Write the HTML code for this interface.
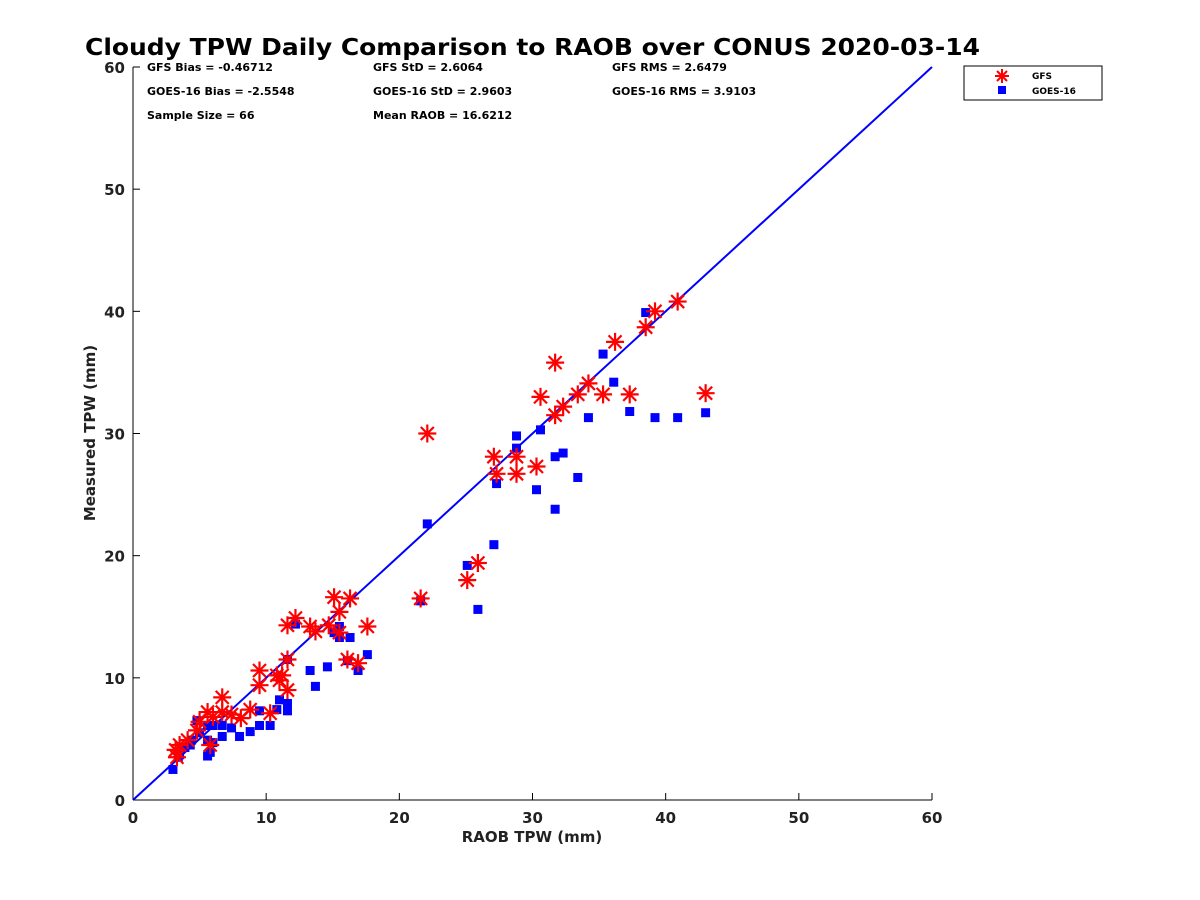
<!DOCTYPE html>
<html><head><meta charset="utf-8"><style>
body{margin:0;background:#fff;}
svg{display:block;font-family:"DejaVu Sans","Liberation Sans",sans-serif;}
</style></head><body>
<svg id="chart" width="1200" height="900">
<rect width="1200" height="900" fill="#fff"/>
<text x="85" y="55" font-size="23" font-weight="bold" textLength="895" lengthAdjust="spacingAndGlyphs">Cloudy TPW Daily Comparison to RAOB over CONUS 2020-03-14</text>
<g font-size="11" font-weight="bold">
<text x="147" y="71">GFS Bias = -0.46712</text>
<text x="373" y="71">GFS StD = 2.6064</text>
<text x="612" y="71">GFS RMS = 2.6479</text>
<text x="147" y="95">GOES-16 Bias = -2.5548</text>
<text x="373" y="95">GOES-16 StD = 2.9603</text>
<text x="612" y="95">GOES-16 RMS = 3.9103</text>
<text x="147" y="119">Sample Size = 66</text>
<text x="373" y="119">Mean RAOB = 16.6212</text>
</g>
<g id="axes"></g>
<g id="marks"></g>
<g>
<rect x="964" y="66" width="138" height="34" fill="#fff" stroke="#000" stroke-width="1"/>
<g stroke="#f00" stroke-width="2">
<line x1="1002" y1="69" x2="1002" y2="83"/><line x1="995" y1="76" x2="1009" y2="76"/><line x1="997" y1="71" x2="1007" y2="81"/><line x1="997" y1="81" x2="1007" y2="71"/>
</g>
<text x="1032" y="79" font-size="9" font-weight="bold">GFS</text>
<rect x="998" y="86" width="8" height="8" fill="#00f"/>
<text x="1032" y="94" font-size="9" font-weight="bold">GOES-16</text>
</g>
</svg>
<script>
const xTicks=[0,10,20,30,40,50,60];
const yTicks=[0,10,20,30,40,50,60];
const gfsX=[43.0,40.9,39.2,38.5,36.2,37.3,35.3,34.2,33.4,32.3,31.7,31.7,30.6,30.3,28.8,28.8,27.1,27.3,22.1,25.9,25.1,21.6,16.3,15.1,15.5,14.7,13.3,13.7,12.2,11.6,17.6,15.5,16.1,16.9,11.6,11.6,9.5,9.5,10.8,11.2,11.0,10.3,8.8,8.1,7.4,6.7,6.7,6.0,5.6,5.8,5.0,4.8,4.1,3.5,3.3,3.2];
const gfsY=[33.3,40.8,40.0,38.7,37.5,33.2,33.2,34.1,33.2,32.2,35.8,31.5,33.0,27.3,28.1,26.7,28.1,26.7,30.0,19.4,18.0,16.5,16.5,16.6,15.4,14.3,14.2,13.8,14.9,14.3,14.2,13.7,11.5,11.2,11.5,9.0,10.6,9.4,10.2,10.2,9.8,7.1,7.4,6.7,7.0,8.4,7.2,6.8,7.2,4.5,6.4,5.7,4.9,4.5,3.5,4.1];
const goesX=[43.0,40.9,39.2,37.3,38.5,36.1,35.3,34.2,33.4,32.3,31.7,31.7,30.6,30.3,28.8,28.8,27.3,27.1,25.1,25.9,22.1,21.6,12.2,15.1,15.5,15.5,16.3,17.6,16.1,16.9,14.6,13.3,13.7,11.6,11.6,11.6,11.0,10.8,10.3,9.5,9.5,8.8,8.0,7.4,6.7,6.7,6.0,6.0,5.6,5.6,5.6,5.8,5.0,4.8,4.4,3.9,4.3,3.4,3.5,3.0];
const goesY=[31.7,31.3,31.3,31.8,39.9,34.2,36.5,31.3,26.4,28.4,28.1,23.8,30.3,25.4,29.8,28.8,25.9,20.9,19.2,15.6,22.6,16.3,14.4,13.7,14.2,13.3,13.3,11.9,11.4,10.6,10.9,10.6,9.3,11.5,7.9,7.3,8.2,7.4,6.1,7.3,6.1,5.6,5.2,5.9,6.1,5.2,6.1,4.7,6.1,4.9,3.6,3.9,5.5,6.5,4.9,4.3,4.5,3.5,3.7,2.5];
const X0=133,X1=932,Y0=800,Y1=67;
const sx=v=>X0+(v-0)/60*(X1-X0);
const sy=v=>Y0-(v-0)/60*(Y0-Y1);
const NS='http://www.w3.org/2000/svg';
function mk(tag,attrs,parent){const e=document.createElementNS(NS,tag);for(const k in attrs)e.setAttribute(k,attrs[k]);parent.appendChild(e);return e;}
const axes=document.getElementById('axes'),marks=document.getElementById('marks');
let e=mk('line',{x1:X0,y1:Y0,x2:X1,y2:Y0,stroke:'#000'},axes);


e=mk('line',{x1:X0,y1:Y0,x2:X0,y2:Y1,stroke:'#000'},axes);


xTicks.forEach(t=>{mk('line',{x1:sx(t),y1:Y0,x2:sx(t),y2:Y0-7,stroke:'#000'},axes);
 e=mk('text',{x:sx(t),y:Y0+23,'font-size':15,'font-weight':'bold','text-anchor':'middle',fill:'#222'},axes);e.textContent=t;
 
 });
yTicks.forEach(t=>{mk('line',{x1:X0,y1:sy(t),x2:X0+7,y2:sy(t),stroke:'#000'},axes);
 e=mk('text',{x:X0-8,y:sy(t)+6,'font-size':15,'font-weight':'bold','text-anchor':'end',fill:'#222'},axes);e.textContent=t;
 
 });
e=mk('text',{x:532,y:842,'font-size':15,'font-weight':'bold','text-anchor':'middle',fill:'#222'},axes);e.textContent='RAOB TPW (mm)';


e=mk('text',{x:95,y:433,'font-size':15,'font-weight':'bold','text-anchor':'middle',fill:'#222',transform:'rotate(-90 95 433)'},axes);e.textContent='Measured TPW (mm)';


e=mk('line',{x1:sx(0),y1:sy(0),x2:sx(60),y2:sy(60),stroke:'#00f','stroke-width':2},marks);


goesX.forEach((v,i)=>{const r=mk('rect',{x:sx(v)-4.5,y:sy(goesY[i])-4.5,width:9,height:9,fill:'#00f'},marks);
 
 });
gfsX.forEach((v,i)=>{const cx=sx(v),cy=sy(gfsY[i]);const g=mk('g',{stroke:'#f00','stroke-width':2.2},marks);
 
 
 mk('line',{x1:cx,y1:cy-9,x2:cx,y2:cy+9},g);mk('line',{x1:cx-9,y1:cy,x2:cx+9,y2:cy},g);
 mk('line',{x1:cx-6.5,y1:cy-6.5,x2:cx+6.5,y2:cy+6.5},g);mk('line',{x1:cx-6.5,y1:cy+6.5,x2:cx+6.5,y2:cy-6.5},g);});
</script>
</body></html>
